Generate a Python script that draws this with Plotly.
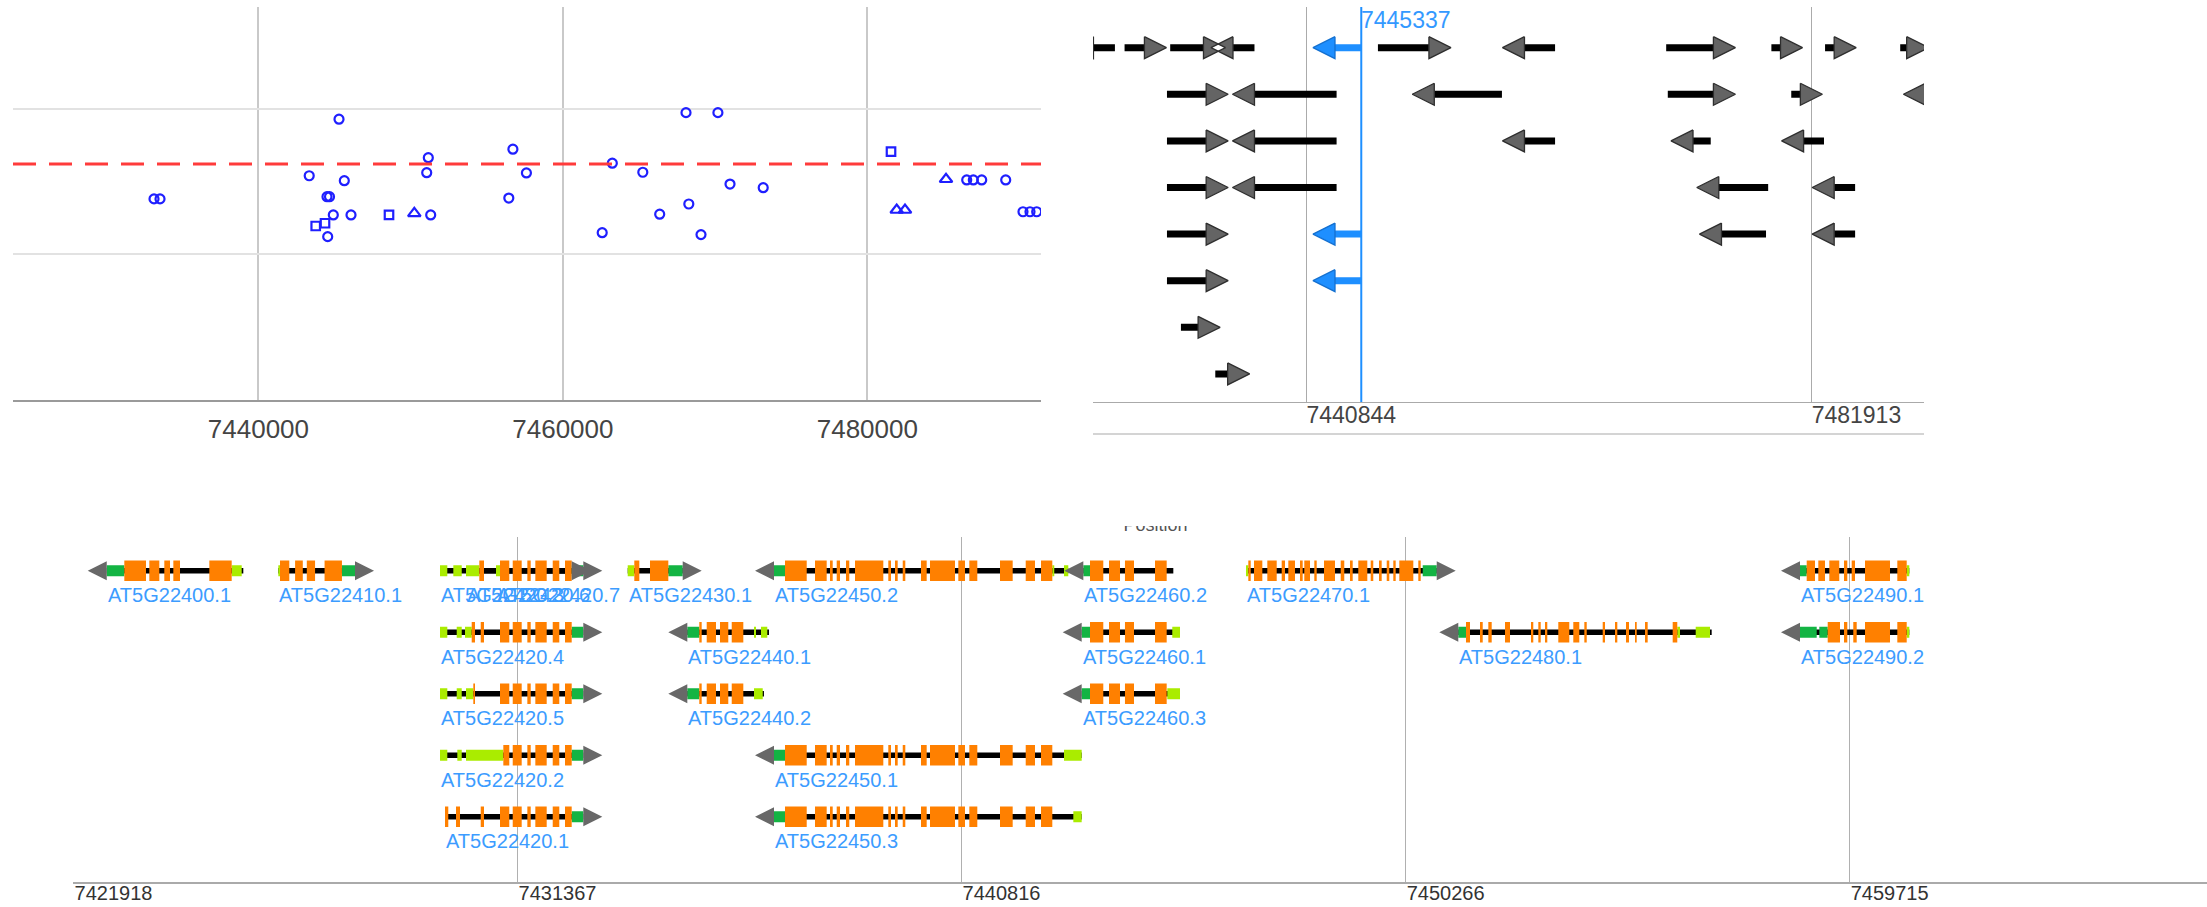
import plotly.graph_objects as go

W, H = 2207, 907
FONT = "Liberation Sans, Arial, sans-serif"

# ---------------- association scan (upper left) ----------------
circle_pos = [7433142, 7433536, 7443337, 7445295, 7445643, 7444506, 7444670,
              7444920, 7446083, 7444552, 7451318, 7451161, 7451056, 7456718,
              7457605, 7456449, 7463248, 7462584, 7465251, 7466361, 7468273,
              7469074, 7468089, 7470185, 7470980, 7473161, 7486529, 7486963,
              7487514, 7489091, 7490226, 7490686, 7491126]
circle_score = [1.380, 1.380, 1.539, 1.927, 1.505, 1.395, 1.395,
                1.270, 1.270, 1.121, 1.270, 1.663, 1.560, 1.721,
                1.558, 1.386, 1.625, 1.148, 1.563, 1.275, 1.345,
                1.135, 1.972, 1.972, 1.482, 1.457, 1.510, 1.510,
                1.510, 1.510, 1.292, 1.292, 1.292]
square_pos = [7443764, 7444375, 7448579, 7481556]
square_score = [1.194, 1.213, 1.270, 1.704]
triangle_pos = [7450241, 7485169, 7481930, 7482475]
triangle_score = [1.281, 1.515, 1.304, 1.304]
score_threshold = 1.62
scan_ticks = [7440000, 7460000, 7480000]

# ---------------- locus overview (upper right) ----------------
locus_row = [1, 1, 1, 1, 1, 1, 1, 1, 1, 1, 1,
             2, 2, 2, 2, 2, 2,
             3, 3, 3, 3, 3,
             4, 4, 4, 4,
             5, 5, 5, 5,
             6, 6,
             7,
             8]
locus_start = [7423563, 7426094, 7429803, 7434909, 7443201, 7446692, 7458605, 7470126, 7478680, 7483043, 7489153,
               7429541, 7436655, 7451274, 7470257, 7480295, 7491204,
               7429541, 7436655, 7458605, 7472308, 7481298,
               7429541, 7436655, 7474403, 7483785,
               7429541, 7443201, 7474621, 7483785,
               7429541, 7443201,
               7430676,
               7433469]
locus_end = [7425309, 7427708, 7432509, 7436655, 7445337, 7450838, 7461093, 7473967, 7479422, 7483785, 7489677,
             7432727, 7443331, 7456773, 7473967, 7481036, 7493000,
             7432727, 7443331, 7461093, 7473748, 7482956,
             7432727, 7443331, 7478418, 7485487,
             7432727, 7445337, 7478243, 7485487,
             7432727, 7445337,
             7432072,
             7434473]
locus_strand = ["-", "+", "+", "-", "-", "+", "-", "+", "+", "+", "+",
                "+", "-", "-", "+", "+", "-",
                "+", "-", "-", "-", "-",
                "+", "-", "-", "-",
                "+", "-", "-", "-",
                "+", "-",
                "+",
                "+"]
locus_selected = [0, 0, 0, 0, 1, 0, 0, 0, 0, 0, 0,
                  0, 0, 0, 0, 0, 0,
                  0, 0, 0, 0, 0,
                  0, 0, 0, 0,
                  0, 1, 0, 0,
                  0, 1,
                  0,
                  0]
selected_pos = 7445337
overview_ticks = [7440844, 7481913]

# ---------------- transcript models (bottom) ----------------
# name, row, strand, start, end
transcripts = [
    ("AT5G22400.1", 1, "-", 7422625, 7425531),
    ("AT5G22410.1", 1, "+", 7426276, 7427908),
    ("AT5G22420.7", 1, "+", 7430908, 7432766),
    ("AT5G22420.3", 1, "+", 7429717, 7432519),
    ("AT5G22420.6", 1, "+", 7430270, 7432519),
    ("AT5G22420.4", 2, "+", 7429717, 7432766),
    ("AT5G22420.5", 3, "+", 7429717, 7432766),
    ("AT5G22420.2", 4, "+", 7429717, 7432766),
    ("AT5G22420.1", 5, "+", 7429823, 7432766),
    ("AT5G22430.1", 1, "+", 7433711, 7434881),
    ("AT5G22440.1", 2, "-", 7434979, 7436717),
    ("AT5G22440.2", 3, "-", 7434979, 7436610),
    ("AT5G22450.2", 1, "-", 7436824, 7443086),
    ("AT5G22450.1", 4, "-", 7436824, 7443371),
    ("AT5G22450.3", 5, "-", 7436824, 7443371),
    ("AT5G22460.2", 1, "-", 7443406, 7445321),
    ("AT5G22460.1", 2, "-", 7443371, 7445463),
    ("AT5G22460.3", 3, "-", 7443371, 7445463),
    ("AT5G22470.1", 1, "+", 7446868, 7450926),
    ("AT5G22480.1", 2, "-", 7451385, 7456777),
    ("AT5G22490.1", 1, "-", 7458656, 7460982),
    ("AT5G22490.2", 2, "-", 7458656, 7460982),
]

core_22420 = [[7430994, 7431191], [7431264, 7431455], [7431575, 7431647],
              [7431745, 7431987], [7432115, 7432255], [7432377, 7432519]]
core_22450 = [[7437058, 7437520], [7437696, 7437945], [7438016, 7438073], [7438158, 7438228],
              [7438356, 7438426], [7438548, 7439150], [7439256, 7439314], [7439399, 7439456],
              [7439563, 7439618], [7439952, 7440073], [7440144, 7440675], [7440746, 7440888],
              [7440980, 7441150], [7441633, 7441903], [7442180, 7442378], [7442505, 7442746]]
core_22460 = [[7443548, 7443831], [7443952, 7444186], [7444292, 7444484], [7444931, 7445180]]
core_22490 = [[7460039, 7460571], [7460727, 7460927]]

exons = {
    "AT5G22400.1": [[7422999, 7423461], [7423531, 7423744], [7423850, 7423971],
                    [7424042, 7424184], [7424808, 7425284]],
    "AT5G22410.1": [[7426312, 7426510], [7426633, 7426797], [7426882, 7427058], [7427260, 7427630]],
    "AT5G22420.7": core_22420,
    "AT5G22420.3": [[7430553, 7430653]] + core_22420,
    "AT5G22420.6": [[7430553, 7430653]] + core_22420,
    "AT5G22420.4": [[7430391, 7430462], [7430583, 7430653]] + core_22420,
    "AT5G22420.5": [[7430425, 7430462]] + core_22420,
    "AT5G22420.2": [[7431064, 7431191]] + core_22420[1:],
    "AT5G22420.1": [[7429823, 7429893], [7430057, 7430142], [7430583, 7430653]] + core_22420,
    "AT5G22430.1": [[7433851, 7433958], [7434185, 7434575]],
    "AT5G22440.1": [[7435234, 7435285], [7435392, 7435590], [7435675, 7435851], [7435924, 7436171]],
    "AT5G22440.2": [[7435234, 7435285], [7435392, 7435590], [7435675, 7435851], [7435924, 7436171]],
    "AT5G22450.2": core_22450,
    "AT5G22450.1": core_22450,
    "AT5G22450.3": core_22450,
    "AT5G22460.2": core_22460,
    "AT5G22460.1": core_22460,
    "AT5G22460.3": core_22460,
    "AT5G22470.1": [[7446917, 7446968], [7447038, 7447215], [7447321, 7447521], [7447627, 7447698],
                    [7447768, 7447910], [7448017, 7448074], [7448108, 7448229], [7448321, 7448372],
                    [7448527, 7448761], [7448883, 7448959], [7449081, 7449138], [7449257, 7449449],
                    [7449521, 7449576], [7449698, 7449755], [7449862, 7449917], [7450002, 7450053],
                    [7450130, 7450428], [7450534, 7450585]],
    "AT5G22480.1": [[7451549, 7451634], [7451847, 7451905], [7452024, 7452096], [7452379, 7452486],
                    [7452932, 7452981], [7453088, 7453139], [7453230, 7453279], [7453513, 7453747],
                    [7453832, 7453960], [7454067, 7454118], [7454458, 7454507], [7454720, 7454769],
                    [7454954, 7455018], [7455145, 7455182], [7455358, 7455415], [7455947, 7456045]],
    "AT5G22490.1": [[7458799, 7458975], [7459046, 7459188], [7459280, 7459492], [7459592, 7459663],
                    [7459756, 7459827]] + core_22490,
    "AT5G22490.2": [[7459246, 7459507], [7459592, 7459663], [7459790, 7459863]] + core_22490,
}

# untranslated regions: 3' (dark green) and 5' (light green)
utr3 = {
    "AT5G22400.1": [[7422625, 7422999]],
    "AT5G22410.1": [[7427630, 7427908]],
    "AT5G22420.7": [[7432519, 7432766]],
    "AT5G22420.4": [[7432519, 7432766]],
    "AT5G22420.5": [[7432519, 7432766]],
    "AT5G22420.2": [[7432519, 7432766]],
    "AT5G22420.1": [[7432519, 7432766]],
    "AT5G22430.1": [[7434575, 7434881]],
    "AT5G22440.1": [[7434979, 7435234]],
    "AT5G22440.2": [[7434979, 7435234]],
    "AT5G22450.2": [[7436824, 7437058]],
    "AT5G22450.1": [[7436824, 7437058]],
    "AT5G22450.3": [[7436824, 7437058]],
    "AT5G22460.2": [[7443406, 7443548]],
    "AT5G22460.1": [[7443371, 7443548]],
    "AT5G22460.3": [[7443371, 7443548]],
    "AT5G22470.1": [[7450628, 7450926]],
    "AT5G22480.1": [[7451385, 7451549]],
    "AT5G22490.1": [[7458656, 7458799]],
    "AT5G22490.2": [[7458656, 7459012], [7459067, 7459246]],
}
utr5 = {
    "AT5G22400.1": [[7425284, 7425497]],
    "AT5G22410.1": [[7426276, 7426312]],
    "AT5G22420.7": [[7430908, 7430994]],
    "AT5G22420.3": [[7429717, 7429872], [7430000, 7430179], [7430270, 7430553]],
    "AT5G22420.6": [[7430270, 7430553]],
    "AT5G22420.4": [[7429717, 7429872], [7430072, 7430179], [7430249, 7430391]],
    "AT5G22420.5": [[7429717, 7429872], [7430072, 7430179], [7430270, 7430425]],
    "AT5G22420.2": [[7429717, 7429872], [7430085, 7430179], [7430270, 7431064]],
    "AT5G22430.1": [[7433711, 7433851]],
    "AT5G22440.1": [[7436398, 7436441], [7436547, 7436681]],
    "AT5G22440.2": [[7436398, 7436584]],
    "AT5G22450.2": [[7442746, 7442788], [7442995, 7443086]],
    "AT5G22450.1": [[7442995, 7443371]],
    "AT5G22450.3": [[7443193, 7443371]],
    "AT5G22460.1": [[7445299, 7445463]],
    "AT5G22460.3": [[7445193, 7445463]],
    "AT5G22470.1": [[7446868, 7446917]],
    "AT5G22480.1": [[7456045, 7456103], [7456437, 7456741]],
    "AT5G22490.1": [[7460927, 7460982]],
    "AT5G22490.2": [[7460927, 7460982]],
}
model_ticks = [7421918, 7431367, 7440816, 7450266, 7459715]

# ---------------- panel geometry (pixels) ----------------
P1_X, P1_Y = (13, 1041), (7, 400)
P2_X, P2_Y = (1093, 1924), (7, 402)
P3_X, P3_Y = (73, 2207), (537, 881.7)
R1_X, R1_Y = [7423879, 7491409], [0, 2.697]
R2_X, R2_Y = [7423527, 7491087], [8.603, 0.127]
R3_X, R3_Y = [7421907, 7467317], [6.057, 0.452]


def dom_x(p):
    return [p[0] / W, p[1] / W]


def dom_y(p):
    return [1 - p[1] / H, 1 - p[0] / H]


bp2 = (R2_X[1] - R2_X[0]) / (P2_X[1] - P2_X[0])
rw2 = (R2_Y[0] - R2_Y[1]) / (P2_Y[1] - P2_Y[0])
bp3 = (R3_X[1] - R3_X[0]) / (P3_X[1] - P3_X[0])
rw3 = (R3_Y[0] - R3_Y[1]) / (P3_Y[1] - P3_Y[0])


def rect_path(spans, half):
    xs, ys = [], []
    for (a, b, y) in spans:
        xs += [a, b, b, a, a, None]
        ys += [y - half, y - half, y + half, y + half, y - half, None]
    return xs, ys


def head_path(items, half, length):
    xs, ys = [], []
    for (start, end, strand, y) in items:
        if strand == "+":
            xs += [end, end, end + length, end, None]
        else:
            xs += [start, start, start - length, start, None]
        ys += [y - half, y + half, y, y - half, None]
    return xs, ys


fig = go.Figure()

# ---- panel 1: scan scores ----
fig.add_trace(go.Scatter(x=circle_pos, y=circle_score, mode="markers", xaxis="x", yaxis="y",
                         marker=dict(symbol="circle-open", size=9, color="#1f1fff", line=dict(width=2.2)),
                         hoverinfo="skip"))
fig.add_trace(go.Scatter(x=square_pos, y=square_score, mode="markers", xaxis="x", yaxis="y",
                         marker=dict(symbol="square-open", size=8.5, color="#1f1fff", line=dict(width=2.2)),
                         hoverinfo="skip"))
fig.add_trace(go.Scatter(x=triangle_pos, y=triangle_score, mode="markers", xaxis="x", yaxis="y",
                         marker=dict(symbol="triangle-up-open", size=11, color="#1f1fff", line=dict(width=2.2)),
                         hoverinfo="skip"))

# ---- panel 2: locus arrows ----
for sel, bar_col, head_col, edge_col in [(0, "#000000", "#646464", "#2e2e2e"),
                                         (1, "#1e8fff", "#1e8fff", "#1470d0")]:
    idx = [i for i in range(len(locus_row)) if locus_selected[i] == sel]
    bx, by = rect_path([(locus_start[i], locus_end[i], locus_row[i]) for i in idx], 3.5 * rw2)
    fig.add_trace(go.Scatter(x=bx, y=by, xaxis="x2", yaxis="y2", mode="lines", fill="toself",
                             fillcolor=bar_col, line=dict(width=0, color=bar_col), hoverinfo="skip"))
    hx, hy = head_path([(locus_start[i], locus_end[i], locus_strand[i], locus_row[i]) for i in idx],
                       11 * rw2, 22 * bp2)
    fig.add_trace(go.Scatter(x=hx, y=hy, xaxis="x2", yaxis="y2", mode="lines", fill="toself",
                             fillcolor=head_col, line=dict(width=1.3, color=edge_col), hoverinfo="skip"))

# ---- panel 3: transcript models ----
ix, iy = [], []
for name, row, strand, s, e in transcripts:
    ix += [s, e, None]
    iy += [row, row, None]
fig.add_trace(go.Scatter(x=ix, y=iy, xaxis="x3", yaxis="y3", mode="lines",
                         line=dict(width=5.5, color="#000000"), hoverinfo="skip"))

row_of = {t[0]: t[1] for t in transcripts}
for table, half, colr in [(utr3, 5.5, "#13b443"), (utr5, 5.5, "#aaec00"), (exons, 10.3, "#ff8000")]:
    spans = []
    for name, segs in table.items():
        spans += [(a, b, row_of[name]) for a, b in segs]
    px_, py_ = rect_path(spans, half * rw3)
    fig.add_trace(go.Scatter(x=px_, y=py_, xaxis="x3", yaxis="y3", mode="lines", fill="toself",
                             fillcolor=colr, line=dict(width=0, color=colr), hoverinfo="skip"))

hx, hy = head_path([(s, e, strand, row) for name, row, strand, s, e in transcripts], 9.5 * rw3, 19 * bp3)
fig.add_trace(go.Scatter(x=hx, y=hy, xaxis="x3", yaxis="y3", mode="lines", fill="toself",
                         fillcolor="#686868", line=dict(width=0, color="#686868"), hoverinfo="skip"))

annotations = []
for name, row, strand, s, e in transcripts:
    annotations.append(dict(x=s, y=row + 24.5 * rw3, xref="x3", yref="y3", text=name, showarrow=False,
                            xanchor="left", yanchor="middle", xshift=-1,
                            font=dict(family=FONT, size=20, color="#3c9cff")))
annotations.append(dict(x=selected_pos, y=R2_Y[1] + 13 * rw2, xref="x2", yref="y2", text=str(selected_pos),
                        showarrow=False, xanchor="left", yanchor="middle", xshift=-2,
                        font=dict(family=FONT, size=23, color="#3399ff")))

# axis title of the lower panel, partly hidden behind the panel edge
fig.add_trace(go.Scatter(x=[0.4625], y=[0.95], text=["Position"], mode="text", xaxis="x4", yaxis="y4",
                         textfont=dict(family=FONT, size=18, color="#555555"), cliponaxis=True,
                         hoverinfo="skip"))

shapes = [
    dict(type="line", xref="x domain", yref="y", x0=0, x1=1, y0=score_threshold, y1=score_threshold,
         line=dict(color="#ff3b3b", width=3, dash="23px,13px")),
    dict(type="line", xref="x2", yref="y2 domain", x0=selected_pos, x1=selected_pos, y0=0, y1=1,
         line=dict(color="#1e8fff", width=2)),
    dict(type="line", xref="x2 domain", yref="paper", x0=0, x1=1, y0=1 - 434 / H, y1=1 - 434 / H,
         line=dict(color="#d4d4d4", width=2)),
]

tick_font = dict(family=FONT, color="#444444")
fig.update_layout(
    width=W, height=H, margin=dict(l=0, r=0, t=0, b=0),
    paper_bgcolor="white", plot_bgcolor="white", showlegend=False,
    xaxis=dict(domain=dom_x(P1_X), range=R1_X, anchor="y", tickvals=scan_ticks,
               ticktext=[str(v) for v in scan_ticks], showgrid=True, gridcolor="#c9c9c9", gridwidth=2,
               showline=True, linecolor="#9a9a9a", linewidth=2, ticks="", zeroline=False,
               tickfont=dict(size=26, **tick_font), ticklabelstandoff=5),
    yaxis=dict(domain=dom_y(P1_Y), range=R1_Y, anchor="x", tickvals=[1, 2], showticklabels=False,
               showgrid=True, gridcolor="#e2e2e2", gridwidth=2, zeroline=False, showline=False, ticks=""),
    xaxis2=dict(domain=dom_x(P2_X), range=R2_X, anchor="y2", tickvals=overview_ticks,
                ticktext=[str(v) for v in overview_ticks], showgrid=True, gridcolor="#ababab", gridwidth=1,
                showline=True, linecolor="#aaaaaa", linewidth=1, ticks="", zeroline=False,
                ticklabelposition="outside right", tickfont=dict(size=23, **tick_font), ticklabelstandoff=-8),
    yaxis2=dict(domain=dom_y(P2_Y), range=R2_Y, anchor="x2", showgrid=False, showticklabels=False,
                zeroline=False, showline=False, ticks=""),
    xaxis3=dict(domain=dom_x(P3_X), range=R3_X, anchor="y3", tickvals=model_ticks,
                ticktext=[str(v) for v in model_ticks], showgrid=True, gridcolor="#b0b0b0", gridwidth=1,
                showline=True, linecolor="#aaaaaa", linewidth=2, ticks="", zeroline=False,
                ticklabelposition="outside right", tickfont=dict(size=20, family=FONT, color="#333333"),
                ticklabelstandoff=-8),
    yaxis3=dict(domain=dom_y(P3_Y), range=R3_Y, anchor="x3", showgrid=False, showticklabels=False,
                zeroline=False, showline=False, ticks=""),
    xaxis4=dict(domain=[1100 / W, 1220 / W], range=[0, 1], anchor="y4", visible=False),
    yaxis4=dict(domain=[1 - 536 / H, 1 - 526 / H], range=[0, 1], anchor="x4", visible=False),
    shapes=shapes, annotations=annotations,
)

fig.write_html("out.html", config={"displayModeBar": False},
               post_script="document.body.style.margin='0';document.body.style.overflow='hidden';")
